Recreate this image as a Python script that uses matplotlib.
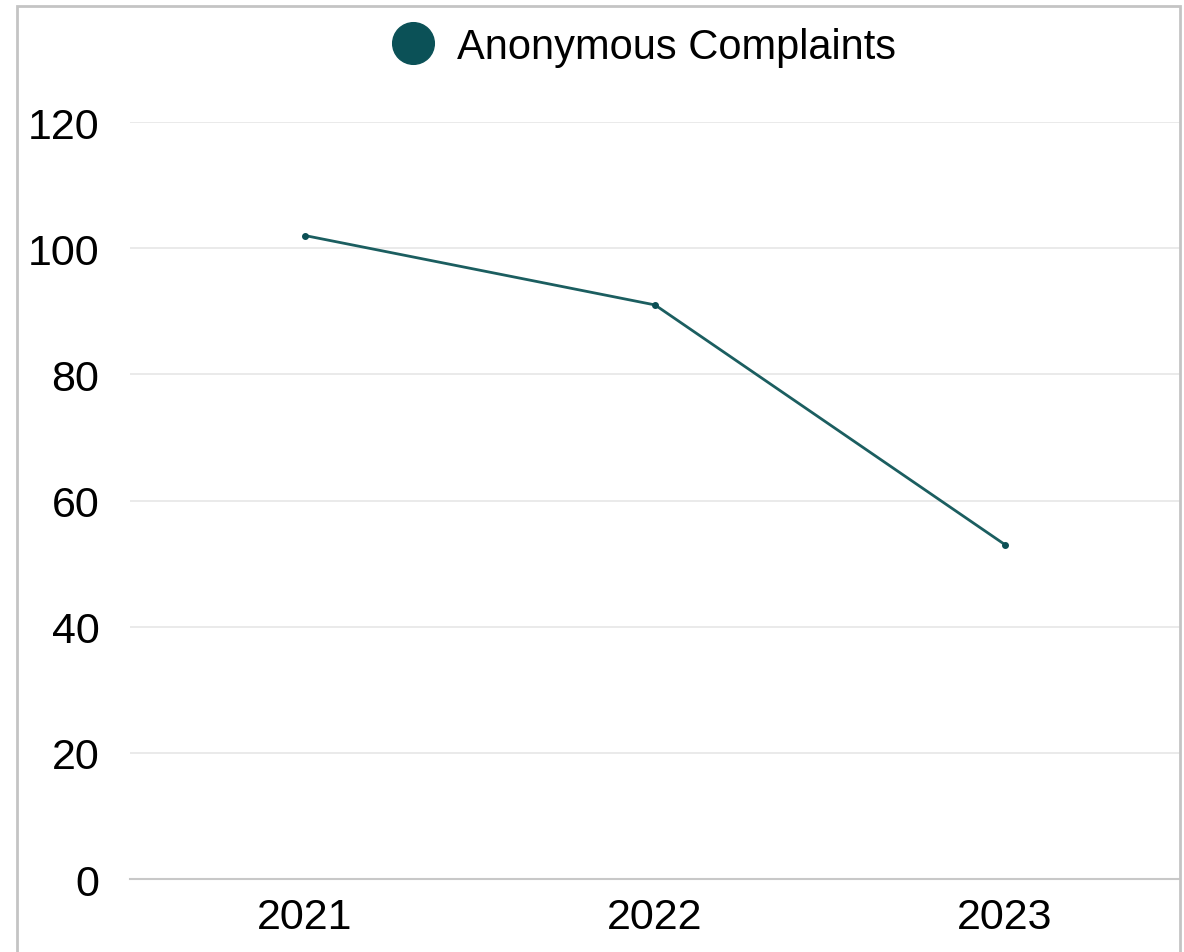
import matplotlib
matplotlib.use("Agg")
import matplotlib.pyplot as plt
from matplotlib.lines import Line2D
from matplotlib.patches import Rectangle

years = ["2021", "2022", "2023"]
complaints = [102, 91, 53]
yticks = [0, 20, 40, 60, 80, 100, 120]
series_name = "Anonymous Complaints"

plt.rcParams['font.family'] = ['Liberation Sans', 'DejaVu Sans']

W, H = 1184, 953
fig = plt.figure(figsize=(W / 100, H / 100), dpi=100)
fig.patch.set_facecolor("white")

# axes placement in pixels
left, right, top, bottom = 130, 1180, 123, 880
ax = fig.add_axes([left / W, 1 - bottom / H, (right - left) / W, (bottom - top) / H])
ax.set_facecolor("white")

x = list(range(len(years)))
color = "#1b5e60"
ax.plot(x, complaints, color=color, lw=2, marker="o", markersize=4,
        markerfacecolor="#0b4f55", markeredgecolor="#0b4f55", clip_on=False, zorder=3)

ax.set_xlim(-0.5, len(years) - 0.5)
ax.set_ylim(0, 120)
ax.set_yticks(yticks)
ax.set_yticklabels([str(v) for v in yticks])
ax.set_xticks(x)
ax.set_xticklabels(years)
ax.tick_params(axis="both", length=0, labelsize=31, colors="black")
ax.tick_params(axis="y", pad=22)
ax.tick_params(axis="x", pad=13)
ax.grid(axis="y", color="#e6e6e6", lw=1.2)
ax.set_axisbelow(True)
for s in ["top", "right", "left"]:
    ax.spines[s].set_visible(False)
ax.spines["bottom"].set_color("#c8c8c8")
ax.spines["bottom"].set_linewidth(1.5)
ax.spines["bottom"].set_zorder(2)

handle = Line2D([], [], linestyle="none", marker="o", markersize=30,
                markerfacecolor="#0b5157", markeredgecolor="#0b5157")
fig.legend([handle], [series_name], loc="center", bbox_to_anchor=(642 / W, 1 - 48 / H),
           frameon=False, fontsize=30, handletextpad=0.45, handlelength=1.2)

# outer border
fig.patches.append(Rectangle((17 / W, -0.05), (1180 - 17) / W, 1.05 - 7 / H,
                             transform=fig.transFigure, fill=False,
                             edgecolor="#c4c4c4", lw=2))

fig.savefig("out.png", dpi=100, facecolor="white")
